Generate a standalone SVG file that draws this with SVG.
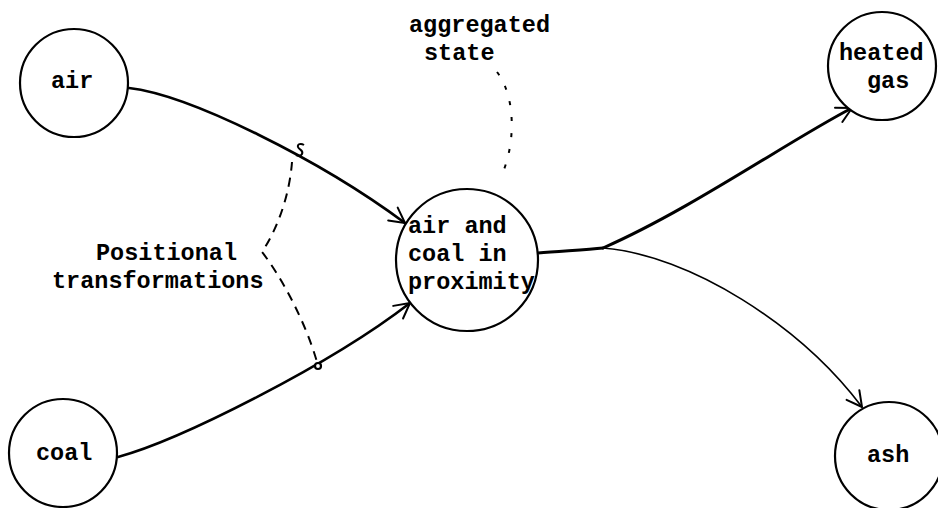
<svg xmlns="http://www.w3.org/2000/svg" width="938" height="508" viewBox="0 0 938 508">
<style>
  .node circle { fill: #fff; stroke: #000; stroke-width: 2.2; }
  .lbl { font-family: "Liberation Mono", "DejaVu Sans Mono", monospace; font-size: 23.5px; font-weight: bold; fill: #000; }
  .edge { fill: none; stroke: #000; stroke-linecap: round; }
  .dash { fill: none; stroke: #000; stroke-width: 2; }
</style>
<defs>
  <marker id="arr" viewBox="-17 -10 19 20" refX="0" refY="0" markerWidth="19" markerHeight="20" markerUnits="userSpaceOnUse" orient="auto">
    <path d="M-15,-8 L0,0 L-15,8" fill="none" stroke="#000" stroke-width="2" stroke-linecap="round" stroke-linejoin="round"/>
  </marker>
</defs>
<rect width="938" height="508" fill="#fff"/>

<g id="connectors">
  <path class="edge" d="M129,88 C190,95 320,160 405,223" stroke-width="2.6" marker-end="url(#arr)"/>
  <path class="edge" d="M118,457 C180,440 330,365 410,303" stroke-width="2.6" marker-end="url(#arr)"/>
  <path class="edge" d="M538,253 C560,251 585,250 603,248" stroke-width="3"/>
  <path class="edge" d="M603,248 C690,210 790,140 852,108" stroke-width="3" marker-end="url(#arr)"/>
  <path class="edge" d="M603,248 C690,255 800,325 862,407" stroke-width="1.6" marker-end="url(#arr)"/>
  <path class="dash" d="M292,162 C290,190 280,225 262,252 C280,275 305,320 317,362" stroke-dasharray="9,7"/>
  <path d="M304,145 c-3,-2 -7,-1 -6,2 c1,3 6,3 4,7 c-1,2 -4,2 -6,1" fill="none" stroke="#000" stroke-width="2"/>
  <path class="dash" d="M497,72 C515,95 516,140 503,172" stroke-width="1.5" stroke-dasharray="4,12"/>
  <circle cx="318" cy="366" r="3" fill="#fff" stroke="#000" stroke-width="2.2"/>
</g>

<g id="node-air" class="node">
  <circle cx="74" cy="83" r="54"/>
  <text class="lbl" x="51" y="88">air</text>
</g>
<g id="node-coal" class="node">
  <circle cx="63" cy="453" r="54"/>
  <text class="lbl" x="36" y="460">coal</text>
</g>
<g id="node-proximity" class="node">
  <circle cx="467" cy="260" r="71"/>
  <text class="lbl" x="408" y="233">air and</text>
  <text class="lbl" x="408" y="261">coal in</text>
  <text class="lbl" x="408" y="289">proximity</text>
</g>
<g id="node-heated-gas" class="node">
  <circle cx="882" cy="66" r="54"/>
  <text class="lbl" x="839" y="60">heated</text>
  <text class="lbl" x="867" y="88">gas</text>
</g>
<g id="node-ash" class="node">
  <circle cx="889" cy="456" r="54"/>
  <text class="lbl" x="867" y="462">ash</text>
</g>

<g id="annotations">
  <text class="lbl" x="409" y="32">aggregated</text>
  <text class="lbl" x="424" y="60">state</text>
  <text class="lbl" x="96" y="260">Positional</text>
  <text class="lbl" x="52" y="288">transformations</text>
</g>
</svg>
